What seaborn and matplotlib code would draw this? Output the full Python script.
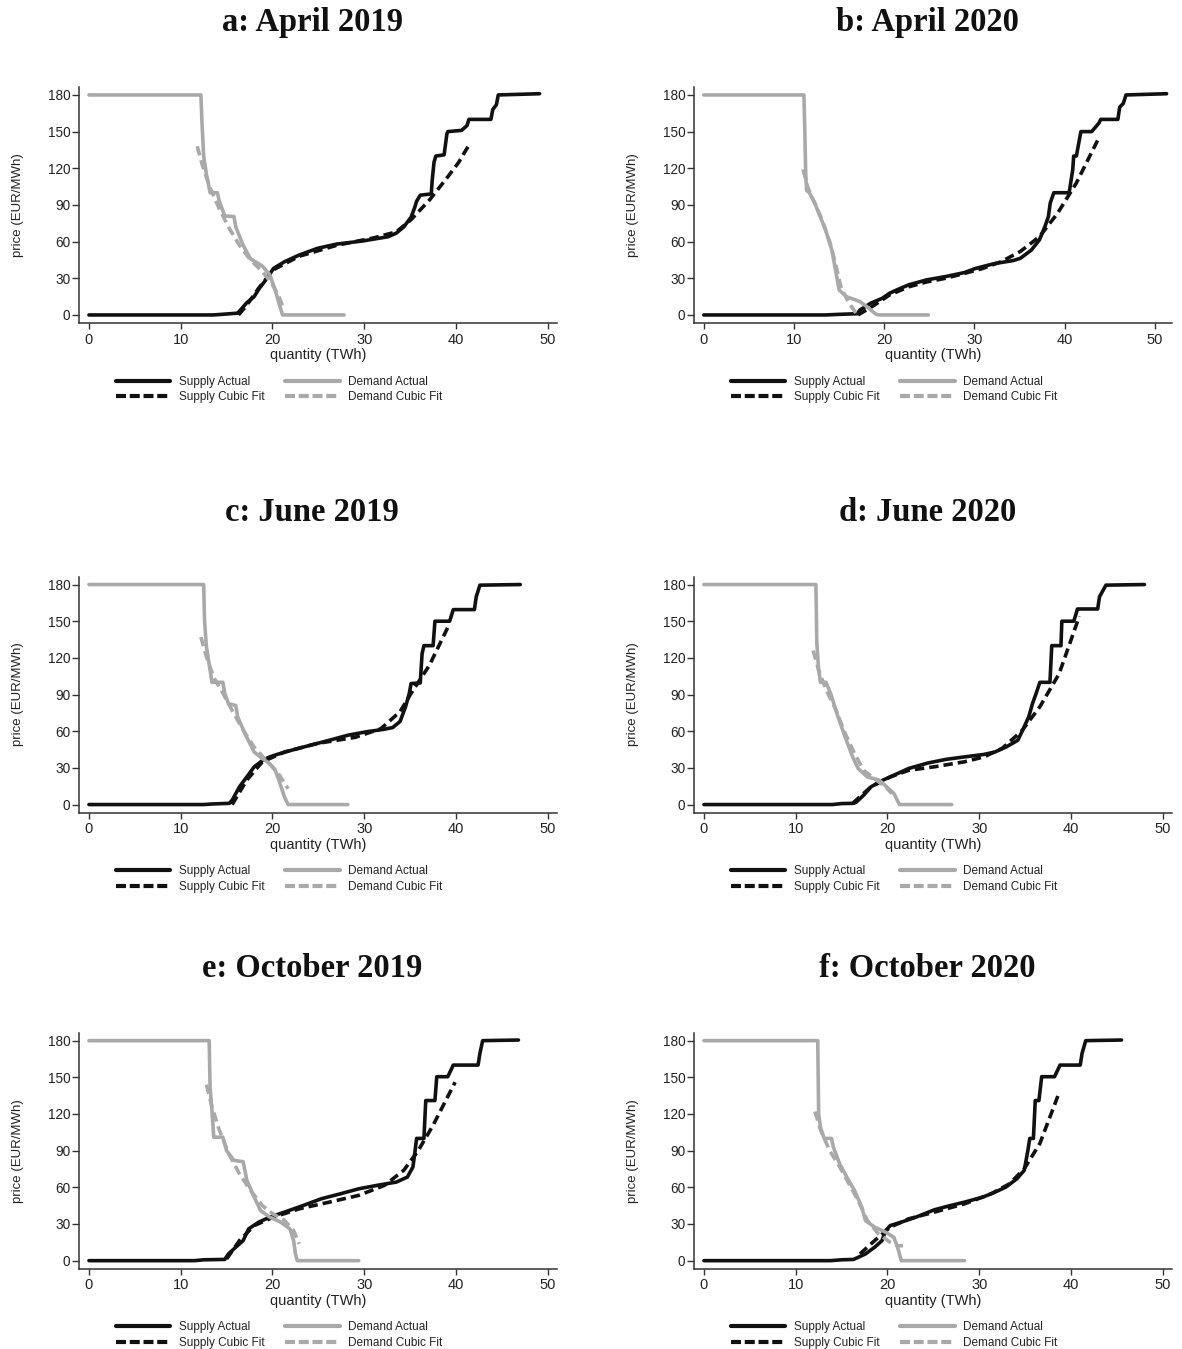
import matplotlib
matplotlib.use("Agg")
import matplotlib.pyplot as plt
import seaborn as sns
from matplotlib.lines import Line2D

# ---------------------------------------------------------------------------
# Aggregate bid curves (quantity in TWh, price in EUR/MWh)
# ---------------------------------------------------------------------------

# a: April 2019
apr19_supply_q = [0, 13.5, 14.5, 16.2, 16.5, 17.2, 18.0, 18.5, 19.5, 20.1, 21.3, 22.9, 24.9, 27.0, 29.8,
                  32.6, 33.5, 34.3, 35.1, 35.5, 35.7, 36.1, 37.3, 37.4, 37.6, 37.8, 38.7, 39.0, 39.1,
                  40.6, 41.2, 41.4, 43.8, 44.0, 44.4, 44.6, 49.1]
apr19_supply_p = [0, 0, 0.5, 1.5, 4, 10, 15, 21, 31, 38, 43.5, 49, 54.5, 58, 60.5,
                  64, 67, 72, 80, 88, 93, 98, 99, 110, 125, 130, 131, 148, 150,
                  151, 155, 160, 160, 168, 172, 180, 181]
apr19_supply_fit_q = [16.3, 17.2, 18.5, 20.1, 22.9, 27.0, 31.0, 33.5, 35.1, 37.1, 39.1, 40.3, 41.4]
apr19_supply_fit_p = [0, 8, 22, 37, 48, 57, 63, 68, 78, 94, 113, 125, 139]
apr19_demand_q = [0, 12.2, 12.3, 12.5, 12.8, 13.0, 13.2, 14.0, 14.2, 14.8, 15.8, 16.0, 16.8, 17.6,
                  18.9, 19.7, 20.3, 20.7, 21.1, 27.8]
apr19_demand_p = [180, 180, 160, 130, 115, 108, 100, 100, 93, 81, 80.5, 72, 57, 46,
                  40, 33, 20.5, 9.6, 0, 0]
apr19_demand_fit_q = [11.8, 12.4, 13.2, 14.2, 15.2, 16.4, 17.6, 18.9, 19.9, 20.7, 21.2]
apr19_demand_fit_p = [138, 121.5, 104, 87, 72, 57, 45, 35.5, 26, 15, 5.5]

# b: April 2020
apr20_supply_q = [0, 13.5, 15.0, 17.0, 17.3, 18.5, 19.8, 20.6, 21.4, 22.7, 24.7, 26.8, 28.9, 30.1,
                  32.2, 34.3, 35.1, 36.3, 37.2, 37.8, 38.2, 38.4, 38.8, 40.5, 40.9, 41.0, 41.3,
                  41.7, 41.8, 43.0, 43.8, 44.0, 45.9, 46.1, 46.5, 46.8, 51.3]
apr20_supply_p = [0, 0, 0.5, 1, 4, 9.6, 13.7, 17.8, 20.5, 24.6, 28.7, 31.4, 34.7, 38,
                  42, 44.5, 46.4, 53, 61.4, 72, 80.5, 91.5, 100, 100, 119, 130, 130,
                  146, 150, 150, 157, 160, 160, 170, 173, 180, 181]
apr20_supply_fit_q = [17.1, 18.9, 20.6, 22.7, 24.7, 26.8, 28.9, 30.9, 33.0, 35.1, 37.2, 39.2, 41.3, 43.8]
apr20_supply_fit_p = [0, 8, 16.4, 23, 27, 30, 34, 38, 43.7, 52, 64, 83, 108, 145]
apr20_demand_q = [0, 11.1, 11.2, 11.3, 11.4, 11.7, 12.3, 12.9, 13.5, 14.2, 14.6, 15.0, 15.8, 17.3,
                  18.3, 19.1, 19.5, 24.9]
apr20_demand_p = [180, 180, 150, 115, 102, 100, 91.5, 80.5, 69.6, 53, 37, 20.5, 15, 11,
                  5.5, 0.5, 0, 0]
apr20_demand_fit_q = [11.0, 11.5, 12.3, 13.1, 14.0, 14.6, 15.2, 16.0, 17.0]
apr20_demand_fit_p = [119, 105, 91.5, 78, 59, 42, 23, 11, 0]

# c: June 2019
jun19_supply_q = [0, 12.5, 13.5, 15.3, 15.6, 16.4, 17.2, 18.0, 18.9, 19.7, 20.5, 22.1, 24.1, 26.2,
                  28.2, 30.2, 32.1, 33.1, 33.9, 34.5, 34.9, 35.1, 36.1, 36.3, 36.5, 37.5, 37.7,
                  39.3, 39.7, 42.0, 42.2, 42.6, 47.0]
jun19_supply_p = [0, 0, 0.5, 1, 3.5, 14.5, 22.6, 30.8, 36, 39, 41, 44.5, 48.5, 52.6,
                  56.7, 59.5, 61.5, 63, 68, 80, 90.8, 99, 99.5, 123.5, 130, 130, 150,
                  150, 159.5, 159.5, 170, 179.5, 180]
jun19_supply_fit_q = [15.6, 17.2, 18.9, 21.3, 24.9, 29.0, 31.8, 33.9, 35.1, 37.1, 39.3]
jun19_supply_fit_p = [0, 20, 35, 43, 50, 55, 62, 76, 91, 114, 148]
jun19_demand_q = [0, 12.5, 12.6, 12.8, 13.2, 13.4, 14.6, 14.8, 15.2, 16.0, 16.2, 17.0, 18.0, 18.9,
                  19.7, 20.3, 20.7, 21.3, 21.7, 28.2]
jun19_demand_p = [180, 180, 150, 129, 110, 100, 100, 91, 82.6, 81, 72, 58, 43, 37.6,
                  33.5, 28, 20, 6.3, 0, 0]
jun19_demand_fit_q = [12.2, 12.8, 13.6, 14.6, 15.6, 16.8, 18.0, 19.3, 20.5, 21.1, 21.7]
jun19_demand_fit_p = [137, 121, 104, 91, 77, 61, 47, 36, 27, 20, 13]

# d: June 2020
jun20_supply_q = [0, 14.0, 15.0, 16.3, 16.6, 17.4, 18.2, 19.5, 20.7, 22.3, 24.4, 26.4, 28.4, 30.5,
                  31.7, 32.9, 34.2, 34.8, 35.4, 35.8, 36.2, 36.6, 37.7, 37.9, 38.9, 39.0, 40.3,
                  40.7, 42.9, 43.1, 43.8, 48.0]
jun20_supply_p = [0, 0, 0.8, 1, 2, 7.6, 14.5, 20, 24, 29.5, 34, 37, 39, 41,
                  43, 47, 52.6, 62, 72, 82.6, 91, 100, 100, 130, 130, 150, 150,
                  160, 160, 170, 179.5, 180]
jun20_supply_fit_q = [16.2, 18.2, 20.3, 22.3, 25.2, 28.4, 30.5, 32.5, 34.6, 36.6, 38.7, 40.9]
jun20_supply_fit_p = [1, 14.5, 22.6, 28, 31, 35, 39, 46, 60, 80, 107, 154]
jun20_demand_q = [0, 12.2, 12.3, 12.5, 12.7, 13.3, 13.8, 14.6, 15.4, 16.2, 16.8, 17.8, 19.1, 19.9,
                  20.7, 21.3, 27.0]
jun20_demand_p = [180, 180, 132, 110, 100, 100, 91, 72, 55, 39, 29.5, 22.6, 20, 14.5,
                  9, 0, 0]
jun20_demand_fit_q = [11.9, 12.5, 13.3, 14.4, 15.4, 16.4, 17.4, 18.7, 19.7, 20.5]
jun20_demand_fit_p = [126, 110, 94, 77, 58, 42, 28, 20.5, 15, 9]

# e: October 2019
oct19_supply_q = [0, 11.5, 12.5, 14.8, 15.2, 16.0, 16.8, 17.4, 18.5, 19.7, 21.3, 23.3, 25.3, 27.4,
                  29.4, 31.4, 33.5, 34.7, 35.3, 35.5, 35.7, 36.5, 36.7, 37.7, 37.9, 39.1, 39.7,
                  42.4, 42.6, 42.9, 46.8]
oct19_supply_p = [0, 0, 0.7, 1, 5.5, 11, 16.4, 26, 31.5, 35.6, 39.7, 45, 50.6, 54.7,
                  58.8, 61.6, 64.3, 68.4, 76.6, 87.6, 100, 100, 131, 131, 150.5, 150.5, 160,
                  160, 169.6, 180, 180.5]
oct19_supply_fit_q = [15.0, 16.4, 18.0, 20.1, 22.9, 26.2, 29.4, 32.2, 34.3, 35.9, 37.5, 39.9]
oct19_supply_fit_p = [1.4, 16.4, 28.7, 35.6, 42.4, 47.9, 53.4, 61.6, 73.9, 90.3, 110.8, 146]
oct19_demand_q = [0, 13.1, 13.2, 13.4, 13.6, 14.6, 15.0, 15.4, 15.8, 16.8, 17.2, 18.0, 18.7, 19.7,
                  20.9, 21.9, 22.3, 22.5, 22.7, 29.4]
oct19_demand_p = [180, 180, 142, 123, 101, 101, 90, 86, 82, 81, 66, 52, 41, 35.6,
                  31.5, 26, 16.4, 5.5, 0, 0]
oct19_demand_fit_q = [12.8, 13.4, 14.2, 15.2, 16.4, 17.6, 18.9, 20.1, 21.3, 22.3, 22.9]
oct19_demand_fit_p = [144, 126, 107, 88, 71, 57.5, 45, 38, 33, 24.6, 13.7]

# f: October 2020
oct20_supply_q = [0, 13.8, 15.0, 16.3, 16.8, 17.6, 18.6, 19.4, 19.8, 20.3, 21.5, 23.1, 25.1, 26.8,
                  28.4, 30.4, 31.7, 32.9, 34.1, 34.9, 35.3, 35.5, 35.9, 36.1, 36.5, 36.8, 38.2,
                  38.8, 41.0, 41.2, 41.6, 45.5]
oct20_supply_p = [0, 0, 0.7, 1, 2.7, 5.5, 11, 16.4, 24.6, 28.7, 31.5, 35.6, 41.6, 45,
                  47.9, 52, 56, 60.2, 67, 73.9, 90.3, 100, 100, 131, 131, 150.5, 150.5,
                  160, 160, 169.6, 180, 180.5]
oct20_supply_fit_q = [17.0, 18.6, 20.3, 22.3, 25.1, 28.4, 31.3, 33.3, 34.9, 36.6, 38.6]
oct20_supply_fit_p = [5.5, 16.4, 27.4, 34.2, 39.7, 46.5, 54.7, 62.9, 75.2, 95.8, 135.4]
oct20_demand_q = [0, 12.4, 12.5, 12.7, 13.1, 13.9, 14.1, 14.8, 15.6, 16.4, 17.2, 17.6, 18.6, 19.8,
                  20.7, 21.1, 21.5, 28.4]
oct20_demand_p = [180, 180, 120, 109, 100, 100, 93, 79, 68, 57.5, 43.8, 32.8, 27.4, 23.3,
                  19, 11, 0, 0]
oct20_demand_fit_q = [12.1, 12.7, 13.7, 14.8, 15.8, 16.8, 17.8, 19.0, 20.3, 21.1, 21.7]
oct20_demand_fit_p = [122, 107, 90, 76.6, 63, 49, 33, 22, 15, 12, 12.3]

panel_titles = ["a: April 2019", "b: April 2020", "c: June 2019",
                "d: June 2020", "e: October 2019", "f: October 2020"]
series_labels = ["Supply Actual", "Supply Cubic Fit", "Demand Actual", "Demand Cubic Fit"]
x_ticks = [0, 10, 20, 30, 40, 50]
y_ticks = [0, 30, 60, 90, 120, 150, 180]

panels = [
    (apr19_supply_q, apr19_supply_p, apr19_supply_fit_q, apr19_supply_fit_p,
     apr19_demand_q, apr19_demand_p, apr19_demand_fit_q, apr19_demand_fit_p),
    (apr20_supply_q, apr20_supply_p, apr20_supply_fit_q, apr20_supply_fit_p,
     apr20_demand_q, apr20_demand_p, apr20_demand_fit_q, apr20_demand_fit_p),
    (jun19_supply_q, jun19_supply_p, jun19_supply_fit_q, jun19_supply_fit_p,
     jun19_demand_q, jun19_demand_p, jun19_demand_fit_q, jun19_demand_fit_p),
    (jun20_supply_q, jun20_supply_p, jun20_supply_fit_q, jun20_supply_fit_p,
     jun20_demand_q, jun20_demand_p, jun20_demand_fit_q, jun20_demand_fit_p),
    (oct19_supply_q, oct19_supply_p, oct19_supply_fit_q, oct19_supply_fit_p,
     oct19_demand_q, oct19_demand_p, oct19_demand_fit_q, oct19_demand_fit_p),
    (oct20_supply_q, oct20_supply_p, oct20_supply_fit_q, oct20_supply_fit_p,
     oct20_demand_q, oct20_demand_p, oct20_demand_fit_q, oct20_demand_fit_p),
]

# ---------------------------------------------------------------------------
# Styling
# ---------------------------------------------------------------------------
sns.set_theme(style="ticks")
plt.rcParams["font.family"] = ["Liberation Sans", "DejaVu Sans"]

BLACK = "#111111"
GREY = "#a9a9a9"
AXIS = "#333333"
LW = 2.6
FIT_DASH = (0, (2.6, 1.4))

W, H = 1182, 1349
fig = plt.figure(figsize=(W / 100, H / 100), dpi=100)

col_left_px = [79.3, 694.3]
row_bottom_px = [322.9, 812.5, 1268.6]
ax_w_px, ax_h_px = 477.7, 235.9

for i, (title, data) in enumerate(zip(panel_titles, panels)):
    r, c = divmod(i, 2)
    left = col_left_px[c] / W
    bottom = 1 - row_bottom_px[r] / H
    ax = fig.add_axes([left, bottom, ax_w_px / W, ax_h_px / H])

    sq, sp, sfq, sfp, dq, dp, dfq, dfp = data
    common = dict(ax=ax, estimator=None, sort=False, legend=False)
    sns.lineplot(x=sq, y=sp, color=BLACK, lw=LW, **common)
    sns.lineplot(x=sfq, y=sfp, color=BLACK, lw=LW, linestyle=FIT_DASH, **common)
    sns.lineplot(x=dq, y=dp, color=GREY, lw=LW, **common)
    sns.lineplot(x=dfq, y=dfp, color=GREY, lw=LW, linestyle=FIT_DASH, **common)

    xmax = max(51.0, max(sq) + 0.6)
    ax.set_xlim(-1.05, xmax)
    ax.set_ylim(-6.5, 186.5)
    ax.set_xticks(x_ticks)
    ax.set_yticks(y_ticks)
    ax.tick_params(axis="y", labelsize=9.8, length=5, width=1.0, pad=1.5,
                   colors=AXIS, labelcolor="#222222")
    ax.tick_params(axis="x", labelsize=10.5, length=4.5, width=1.0, pad=2.5,
                   colors=AXIS, labelcolor="#222222")
    for s in ["top", "right"]:
        ax.spines[s].set_visible(False)
    for s in ["left", "bottom"]:
        ax.spines[s].set_color(AXIS)
        ax.spines[s].set_linewidth(1.1)

    ax.set_xlabel("quantity (TWh)", fontsize=10.5, color="#222222")
    ax.set_ylabel("price (EUR/MWh)", fontsize=9.5, color="#222222")
    ax.xaxis.set_label_coords(0.5, -0.136)
    ax.xaxis.label.set_va("center")
    ax.yaxis.set_label_coords(-0.128, 0.5)
    ax.yaxis.label.set_va("center")

    handles = [
        Line2D([], [], color=BLACK, lw=3.0),
        Line2D([], [], color=BLACK, lw=3.0, linestyle=(0, (2.4, 0.9))),
        Line2D([], [], color=GREY, lw=3.0),
        Line2D([], [], color=GREY, lw=3.0, linestyle=(0, (2.4, 0.9))),
    ]
    ax.legend(handles, series_labels, ncol=2, loc="center left",
              bbox_to_anchor=(36.7 / ax_w_px, -66.6 / ax_h_px),
              frameon=False, fontsize=8.5, handlelength=4.6, handletextpad=0.7,
              columnspacing=1.8, labelspacing=0.3, borderaxespad=0, borderpad=0,
              labelcolor="#222222")

    title_x = (col_left_px[c] + ax_w_px / 2 - 6) / W
    title_y = 1 - (row_bottom_px[r] - ax_h_px - 64) / H
    fig.text(title_x, title_y, title, ha="center", va="center",
             family=["Liberation Serif", "DejaVu Serif"], fontweight="bold",
             fontsize=23.5, color="#111111")

fig.savefig("out.png", dpi=100, facecolor="white")
